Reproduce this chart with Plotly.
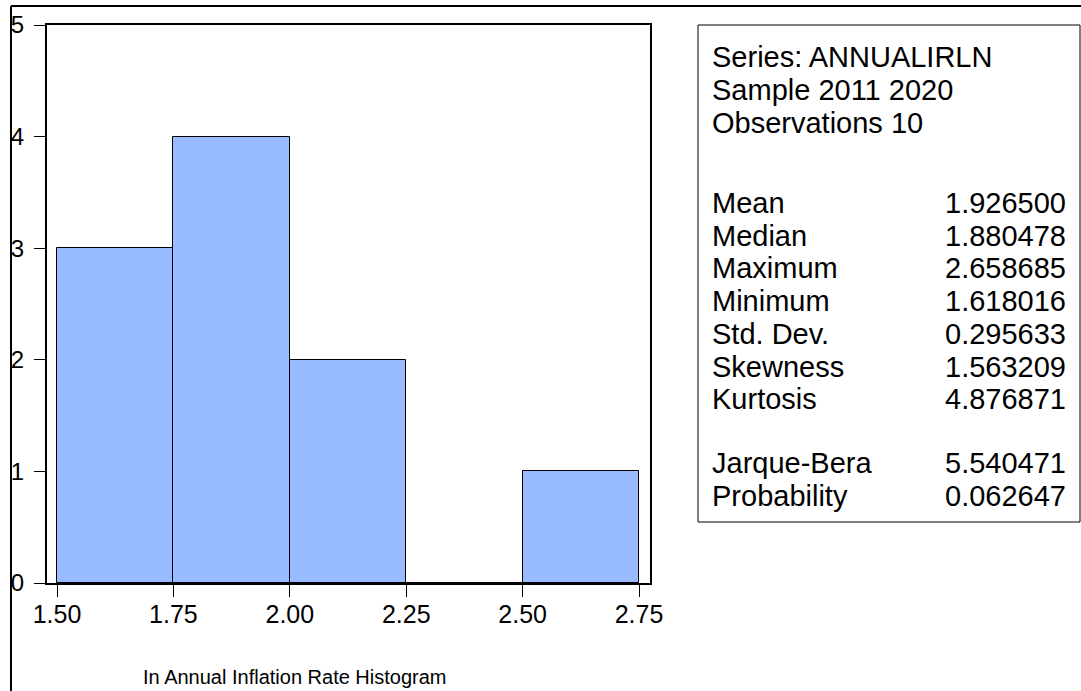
import plotly.graph_objects as go

# ---- data ----
bin_starts = [1.50, 1.75, 2.00, 2.25, 2.50]
bin_width = 0.25
counts = [3, 4, 2, 0, 1]
x_ticks = [1.50, 1.75, 2.00, 2.25, 2.50, 2.75]
y_ticks = [0, 1, 2, 3, 4, 5]

stat_header = ["Series: ANNUALIRLN", "Sample 2011 2020", "Observations 10"]
stat_names = ["Mean", "Median", "Maximum", "Minimum", "Std. Dev.", "Skewness", "Kurtosis"]
stat_values = ["1.926500", "1.880478", "2.658685", "1.618016", "0.295633", "1.563209", "4.876871"]
test_names = ["Jarque-Bera", "Probability"]
test_values = ["5.540471", "0.062647"]
x_title = "In Annual Inflation Rate Histogram"

# ---- layout geometry (pixels) ----
W, H = 1081, 691
L, R, T, B = 47, 650, 25, 583

def px_x(p):
    return (p - L) / (R - L)

def px_y(p):
    return (B - p) / (B - T)

centers = [s + bin_width / 2 for s in bin_starts]

fig = go.Figure()
fig.add_trace(go.Bar(
    x=centers, y=counts, width=bin_width,
    marker=dict(color="#99BBFF", line=dict(color="black", width=1)),
    hoverinfo="skip",
))

font_family = "Liberation Sans, Arial, sans-serif"

fig.update_layout(
    width=W, height=H,
    margin=dict(l=L, r=W - R, t=T, b=H - B, pad=0),
    paper_bgcolor="white", plot_bgcolor="white",
    showlegend=False, bargap=0,
    font=dict(family=font_family, color="black"),
)
fig.update_xaxes(
    range=[1.4785, 2.7736], tickvals=x_ticks, tickformat=".2f",
    ticks="outside", ticklen=12, tickcolor="black", tickwidth=1,
    showline=True, linecolor="black", linewidth=2, mirror=True,
    showgrid=False, zeroline=False, ticklabelstandoff=-4,
    tickfont=dict(size=25, family=font_family, color="black"),
)
fig.update_yaxes(
    range=[0, 5], tickvals=y_ticks,
    ticks="outside", ticklen=11, tickcolor="black", tickwidth=1,
    showline=True, linecolor="black", linewidth=2, mirror=True,
    showgrid=False, zeroline=False, ticklabelstandoff=5,
    tickfont=dict(size=24, family=font_family, color="black"),
)

shapes = []
# outer frame (left and top lines)
shapes.append(dict(type="line", xref="paper", yref="paper",
                   x0=px_x(11), x1=px_x(11), y0=px_y(6), y1=px_y(H + 5),
                   line=dict(color="black", width=2)))
shapes.append(dict(type="line", xref="paper", yref="paper",
                   x0=px_x(11), x1=px_x(W + 5), y0=px_y(6), y1=px_y(6),
                   line=dict(color="black", width=2)))
# stats box
shapes.append(dict(type="rect", xref="paper", yref="paper",
                   x0=px_x(698), x1=px_x(1080), y0=px_y(25), y1=px_y(522),
                   line=dict(color="black", width=1), fillcolor="rgba(0,0,0,0)"))
fig.update_layout(shapes=shapes)

annotations = []
fs = 29

def add_line(yc, left, right=None):
    annotations.append(dict(xref="paper", yref="paper", x=px_x(710), y=px_y(yc),
                            xanchor="left", yanchor="middle", text=left, showarrow=False,
                            font=dict(size=fs, family=font_family, color="black")))
    if right is not None:
        annotations.append(dict(xref="paper", yref="paper", x=px_x(1068), y=px_y(yc),
                                xanchor="right", yanchor="middle", text=right, showarrow=False,
                                font=dict(size=fs, family=font_family, color="black")))

step = 32.7
for i, t in enumerate(stat_header):
    add_line(57 + i * 33, t)
for i, (n, v) in enumerate(zip(stat_names, stat_values)):
    add_line(203 + i * step, n, v)
for i, (n, v) in enumerate(zip(test_names, test_values)):
    add_line(463 + i * 33, n, v)

annotations.append(dict(xref="paper", yref="paper", x=px_x(295), y=px_y(677),
                        xanchor="center", yanchor="middle", text=x_title, showarrow=False,
                        font=dict(size=20, family=font_family, color="black")))
fig.update_layout(annotations=annotations)

fig.write_html("out.html")
